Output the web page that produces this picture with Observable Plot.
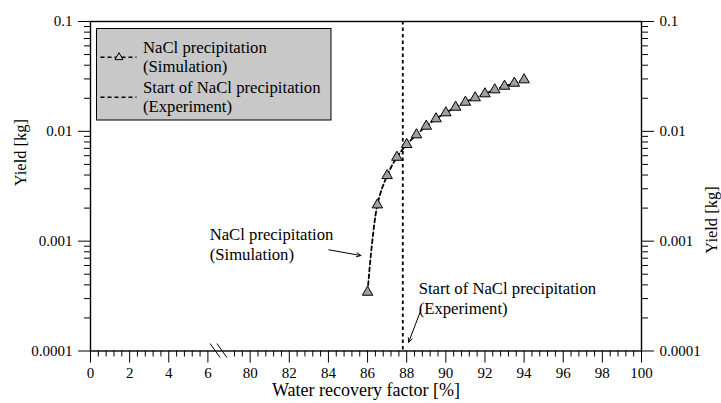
<!DOCTYPE html>
<html><head><meta charset="utf-8">
<script src="https://cdn.jsdelivr.net/npm/d3@7"></script>
<script src="https://cdn.jsdelivr.net/npm/@observablehq/plot@0.6"></script>
<style>body{margin:0;background:#fff} svg text{font-family:"Liberation Serif","Times New Roman",serif !important;}</style>
</head><body><div id="chart"></div>
<script>
// ---- data ----
const simX = [86, 86.5, 87, 87.5, 88, 88.5, 89, 89.5, 90, 90.5, 91, 91.5, 92, 92.5, 93, 93.5, 94];
const simY = [0.000343, 0.00214, 0.00396, 0.00581, 0.00759, 0.0093, 0.01114, 0.01301, 0.01475, 0.01659, 0.01842, 0.0202, 0.02197, 0.02389, 0.02576, 0.02744, 0.02946];
const expStartX = [87.8];
const xMajorTicks = [0, 2, 4, 6, 80, 82, 84, 86, 88, 90, 92, 94, 96, 98, 100];
const yMajorTicks = [0.0001, 0.001, 0.01, 0.1];
const yTickLabels = ["0.0001", "0.001", "0.01", "0.1"];
const legendLabels = ["NaCl precipitation\n(Simulation)", "Start of NaCl precipitation\n(Experiment)"];
const annotText = ["NaCl precipitation\n(Simulation)", "Start of NaCl precipitation\n(Experiment)"];
const annotX = [77.93, 88.61];
const annotY = [0.000948, 0.000307];
const arrowX1 = [84.02, 88.73];
const arrowY1 = [0.000834, 0.000237];
const arrowX2 = [85.66, 88.10];
const arrowY2 = [0.00074, 0.00012];
const xLabel = "Water recovery factor [%]";
const yLabel = "Yield [kg]";

// ---- broken x axis: 0..6.x then 80..100 on one continuous position ----
const SEG2_OFFSET = 71.84;           // 80 sits at 8.16 on the continuous axis
const toU = x => x < 40 ? x : x - SEG2_OFFSET;
const fromU = u => u < 7.2 ? u : u + SEG2_OFFSET;
const breakU = [6.39, 6.74];

const xMinor = [...d3.range(0, 6.01, 0.4), ...d3.range(79.2, 100.01, 0.4)]
  .map(v => Math.round(v * 10) / 10)
  .filter(v => !xMajorTicks.includes(v));
const yMinor = [];
for (const dec of [0.0001, 0.001, 0.01]) for (let k = 2; k <= 9; k++) yMinor.push(dec * k);

const sim = simX.map((x, i) => ({x: toU(x), y: simY[i]}));
const annots = annotText.map((t, i) => ({t, x: toU(annotX[i]), y: annotY[i]}));
const arrows = arrowX1.map((x, i) => ({x1: toU(x), y1: arrowY1[i], x2: toU(arrowX2[i]), y2: arrowY2[i]}));

const FONT = "'Liberation Serif', 'Times New Roman', serif";
const yFmt = d => yTickLabels[yMajorTicks.findIndex(v => Math.abs(v - d) < 1e-12)];

function breakMark(index, scales, values, dims) {
  const g = d3.create("svg:g");
  const y0 = dims.height - dims.marginBottom;
  for (const u of breakU) {
    const x = scales.x(u);
    g.append("line").attr("x1", x - 5).attr("y1", y0 - 7).attr("x2", x + 5).attr("y2", y0 + 7)
      .attr("stroke", "black").attr("stroke-width", 1);
  }
  return g.node();
}

function legendMark(index, scales, values, dims) {
  const g = d3.create("svg:g").attr("font-family", FONT).attr("font-size", 16.7).attr("text-anchor", "start");
  const x0 = dims.marginLeft + 6.5, y0 = dims.marginTop + 7.5;
  g.append("rect").attr("x", x0).attr("y", y0).attr("width", 234.5).attr("height", 91.5)
    .attr("fill", "#c8c8c8").attr("stroke", "black").attr("stroke-width", 1);
  const rows = [y0 + 28.8, y0 + 68.8];
  rows.forEach((ry, i) => {
    g.append("line").attr("x1", x0 + 4).attr("x2", x0 + 40).attr("y1", ry).attr("y2", ry)
      .attr("stroke", "black").attr("stroke-width", 1.6).attr("stroke-dasharray", "4,3");
    if (i === 0) {
      const sym = d3.symbol(d3.symbolTriangle, 28)();
      g.append("path").attr("d", sym).attr("transform", `translate(${x0 + 22.5},${ry})`)
        .attr("fill", "#c8c8c8").attr("stroke", "black").attr("stroke-width", 1);
    }
    const lines = legendLabels[i].split("\n");
    lines.forEach((ln, j) => {
      g.append("text").attr("x", x0 + 46.5).attr("y", ry - 10.3 + j * 19.3).attr("dy", "0.33em")
        .attr("text-anchor", "start").attr("fill", "black").text(ln);
    });
  });
  return g.node();
}

const chart = Plot.plot({
  width: 721, height: 403,
  marginLeft: 90, marginRight: 80, marginTop: 21, marginBottom: 52.5,
  style: {fontFamily: FONT, fontSize: "15px", background: "white", color: "black"},
  x: {domain: [0, toU(100)], axis: null},
  y: {type: "log", domain: [0.0001, 0.1], axis: null},
  marks: [
    // axes
    Plot.axisX(xMinor.map(toU), {anchor: "bottom", tickSize: 6, text: null, strokeWidth: 1}),
    Plot.axisX(xMajorTicks.map(toU), {anchor: "bottom", tickSize: 12, tickPadding: 4, strokeWidth: 1,
      tickFormat: u => String(Math.round(fromU(u))), fontSize: 15}),
    Plot.axisY(yMinor, {anchor: "left", tickSize: 6, text: null}),
    Plot.axisY(yMinor, {anchor: "right", tickSize: 6, text: null}),
    Plot.axisY(yMajorTicks, {anchor: "left", tickSize: 12, tickPadding: 6, tickFormat: yFmt, fontSize: 15}),
    Plot.axisY(yMajorTicks, {anchor: "right", tickSize: 12, tickPadding: 6, tickFormat: yFmt, fontSize: 15}),
    Plot.frame({stroke: "black", strokeWidth: 1.4}),
    breakMark,
    // axis titles
    Plot.text([yLabel], {frameAnchor: "left", dx: -70, rotate: -90, text: d => d, fontSize: 16.5}),
    Plot.text([yLabel], {frameAnchor: "right", dx: 70, rotate: -90, text: d => d, fontSize: 16.5}),
    Plot.text([xLabel], {frameAnchor: "bottom", dy: 45, text: d => d, fontSize: 18}),
    // experiment start
    Plot.ruleX(expStartX.map(toU), {stroke: "black", strokeWidth: 1.8, strokeDasharray: "3.5,3"}),
    // simulation
    Plot.line(sim, {x: "x", y: "y", curve: "catmull-rom", stroke: "black", strokeWidth: 1.8, strokeDasharray: "4,3"}),
    Plot.dot(sim, {x: "x", y: "y", symbol: "triangle", r: 3.9, fill: "#a0a0a0", stroke: "black", strokeWidth: 1}),
    // annotations
    Plot.text(annots, {x: "x", y: "y", text: "t", textAnchor: "start", lineAnchor: "middle", lineHeight: 1.17, fontSize: 16.7, fill: "black"}),
    Plot.arrow(arrows, {x1: "x1", y1: "y1", x2: "x2", y2: "y2", stroke: "black", strokeWidth: 1, headLength: 7, headAngle: 50}),
    legendMark
  ]
});
document.getElementById("chart").appendChild(chart);
</script>
</body></html>
